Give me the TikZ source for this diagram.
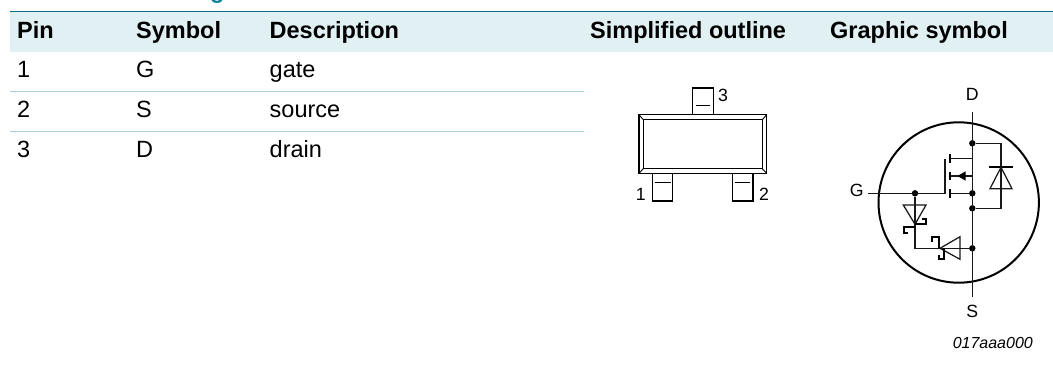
\documentclass[tikz,border=0pt]{standalone}
\usepackage{fontspec}
\setmainfont{Liberation Sans}
\definecolor{band}{HTML}{E1F0F3}
\definecolor{rule}{HTML}{0F6E8C}
\definecolor{rowline}{HTML}{A9D2D6}
\definecolor{title}{HTML}{0F82A0}
\tikzset{
 head/.style={anchor=base west,inner sep=0pt,font=\fontsize{23.5}{26}\selectfont\bfseries},
 cell/.style={anchor=base west,inner sep=0pt,font=\fontsize{23.5}{26}\selectfont},
 lab/.style={anchor=center,inner sep=0pt,font=\fontsize{17.7}{20}\selectfont},
 wire/.style={line width=1.25pt,black!90},
 thick wire/.style={line width=2pt,black},
 pkg/.style={line width=1.4pt,black},
 junction/.style={circle,fill=black,inner sep=0pt,minimum size=6.4pt},
}
\begin{document}
\begin{tikzpicture}[x=1pt,y=-1pt]
\useasboundingbox (0,0) rectangle (1053,365);
% clipped heading descender
\begin{scope}
\clip (0,0) rectangle (1053,5);
\node[anchor=base west,inner sep=0pt,text=title,font=\fontsize{23.5}{26}\selectfont\bfseries] (ttl) at (210,-2) {g};
\end{scope}
% table
\fill[band] (10,11.7) rectangle (1053,51.7);
\draw[rule,line width=1pt] (10,11.7) -- (1053,11.7);
\draw[rowline,line width=.9pt] (10,91) -- (584,91);
\draw[rowline,line width=.9pt] (10,131) -- (584,131);
\node[head] (h1) at (17,38.3) {Pin};
\node[head] (h2) at (136,38.3) {Symbol};
\node[head] (h3) at (269.5,38.3) {Description};
\node[head] (h4) at (590,38.3) {Simplified outline};
\node[head] (h5) at (830,38.3) {Graphic symbol};
\node[cell] (a1) at (17,77.7) {1};
\node[cell] (b1) at (136,77.7) {G};
\node[cell] (c1) at (269.5,77.7) {gate};
\node[cell] (a2) at (17,117.7) {2};
\node[cell] (b2) at (136,117.7) {S};
\node[cell] (c2) at (269.5,117.7) {source};
\node[cell] (a3) at (17,157.7) {3};
\node[cell] (b3) at (136,157.7) {D};
\node[cell] (c3) at (269.5,157.7) {drain};
% package outline
\draw[pkg] (639,114.7) rectangle (766.7,173.3);
\draw[pkg] (643.3,119.7) rectangle (762.3,168.7);
\draw[pkg,line width=.9pt] (639,114.7) -- (643.3,119.7) (766.7,114.7) -- (762.3,119.7) (639,173.3) -- (643.3,168.7) (766.7,173.3) -- (762.3,168.7);
\draw[pkg] (692.7,114.7) -- (692.7,88) -- (713.3,88) -- (713.3,114.7);
\draw[pkg,line width=1pt] (695.7,105.7) -- (710.3,105.7);
\draw[pkg] (652.3,173.3) -- (652.3,201) -- (672.7,201) -- (672.7,173.3);
\draw[pkg,line width=1pt] (654.7,182) -- (670.7,182);
\draw[pkg] (732.7,173.3) -- (732.7,201) -- (753,201) -- (753,173.3);
\draw[pkg,line width=1pt] (735,182) -- (750.3,182);
\node[lab] (p3) at (723,95.7) {3};
\node[lab] (p1) at (640.7,194) {1};
\node[lab] (p2) at (764,194) {2};
% graphic symbol
\draw[line width=2pt] (958.7,202.5) circle (80.2);
\node[lab] (lD) at (972.3,94) {D};
\node[lab] (lG) at (856.7,190) {G};
\node[lab] (lS) at (972.3,311.7) {S};
\coordinate (dtop) at (972.3,112);
\coordinate (sbot) at (972.3,297);
\coordinate (gin) at (868.3,193.3);
\node[junction] (j1) at (972.3,143.3) {};
\node[junction] (j2) at (972.3,193.3) {};
\node[junction] (j3) at (972.3,208.3) {};
\node[junction] (j4) at (972.3,248.3) {};
\node[junction] (j5) at (915,193.3) {};
\draw[wire] (dtop) -- (sbot);
\draw[wire] (gin) -- (945,193.3) -- (945,159.3);
\draw[wire] (j1) -- (1001,143.3) -- (1001,208.3) -- (j3);
\draw[wire] (950,158.3) -- (972.3,158.3) -- (j1);
\draw[wire] (950,176) -- (972.3,176) -- (j2);
\draw[wire] (950,193.3) -- (j2);
\draw[thick wire] (950,154) -- (950,162.7) (950,171.7) -- (950,180) (950,189.3) -- (950,197.7);
\fill (957.3,176) -- (965.7,171.3) -- (965.7,180.7) -- cycle;
% body diode
\draw[thick wire] (989.3,167.3) -- (1012.7,167.3);
\draw[wire,line join=miter] (1001,167.3) -- (1012,188.7) -- (990,188.7) -- cycle;
% zener 1
\draw[wire] (j5) -- (915,248.3) -- (j4);
\draw[wire] (903.3,205) -- (926,205) -- (915,224.3) -- cycle;
\draw[thick wire] (921.7,219.3) -- (926,219.3) -- (926,224.3) -- (915,224.3);
\draw[thick wire] (915,227.3) -- (904,227.3) -- (904,232.7) -- (908.3,232.7);
% zener 2
\draw[wire] (960,236.7) -- (960,259.3) -- (940,248.3) -- cycle;
\draw[thick wire] (931.7,241.7) -- (931.7,237.3) -- (939.3,237.3) -- (939.3,248.3);
\draw[thick wire] (943.5,248.3) -- (943.5,259) -- (938.5,259) -- (938.5,255);
\node[inner sep=0pt,font=\fontsize{16}{18}\selectfont\itshape] (code) at (992.8,343.3) {017aaa000};
\end{tikzpicture}
\end{document}
